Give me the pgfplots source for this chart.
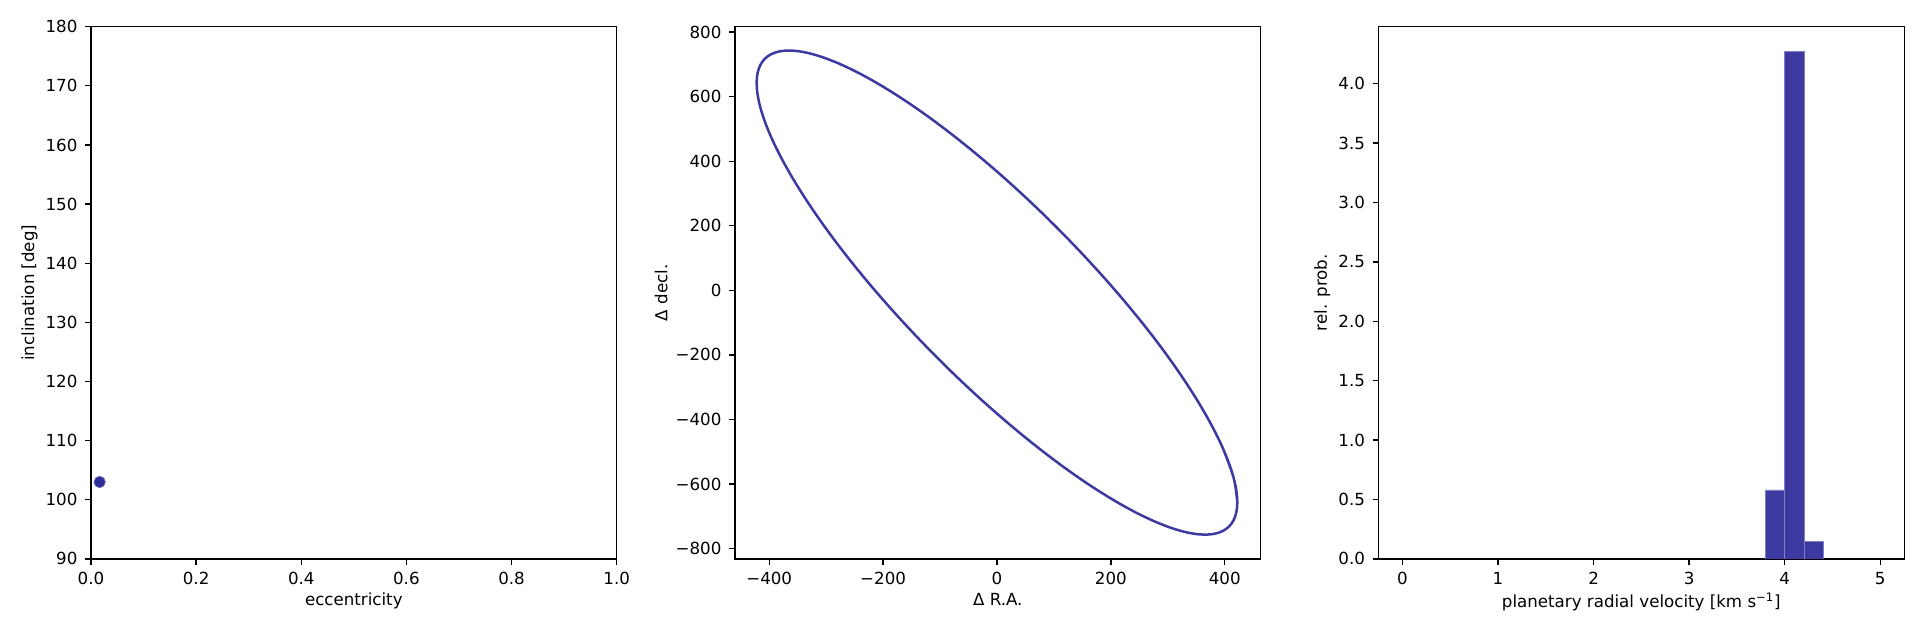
\documentclass[border=0pt]{standalone}
\usepackage{fontspec}
\setmainfont{DejaVu Sans}
\usepackage{pgfplots}
\pgfplotsset{compat=1.18}

\definecolor{orbit}{RGB}{62,57,160}
\definecolor{dotc}{RGB}{48,46,160}

\pgfplotsset{
  panel/.style={
    scale only axis,
    width=315.4pt, height=319.3pt,
    anchor=south west,
    font=\fontsize{10}{12}\selectfont,
    /pgf/number format/assume math mode=true,
    axis line style={black, line width=0.8pt},
    tick style={black, line width=0.8pt},
    major tick length=3.6pt,
    tick align=outside,
    xtick pos=bottom, ytick pos=left,
    xticklabel style={yshift=-1pt},
    yticklabel style={xshift=-1pt},
    xlabel style={yshift=2pt},
    ylabel style={yshift=-2pt},
  },
}

\begin{document}
\begin{tikzpicture}
\path (0,0) rectangle (1152pt,384pt);

% eccentricity vs inclination
\begin{axis}[panel, at={(54.6pt,48.7pt)},
  xmin=0, xmax=1, ymin=90, ymax=180,
  xtick={0,0.2,0.4,0.6,0.8,1.0},
  ytick={90,100,...,180},
  xticklabel style={/pgf/number format/.cd, fixed, fixed zerofill, precision=1},
  xlabel={eccentricity}, ylabel={inclination [deg]}]
\addplot[only marks, mark=*, mark size=3.4pt, color=dotc,
  mark options={fill=dotc!95!black, draw=dotc!75!white, line width=0.5pt}]
  coordinates {(0.0164,103.0)};
\end{axis}

% projected orbit
\begin{axis}[panel, at={(441pt,48.7pt)},
  xmin=-460, xmax=463, ymin=-832, ymax=817,
  xtick={-400,-200,0,200,400},
  xticklabels={−400,−200,0,200,400},
  ytick={-800,-600,...,800},
  yticklabels={−800,−600,−400,−200,0,200,400,600,800},
  xlabel={Δ R.A.}, ylabel={Δ decl.}]
\addplot[color=orbit, line width=1.5pt, smooth, tension=0.6] coordinates {
(422,-656.5) (415.6,-581.5) (396.6,-489.1) (365.5,-382) (323.3,-263.5)
(271.3,-137.2) (211,-7) (144.3,123.2) (73.3,249.5) (0,368)
(-73.3,475.1) (-144.3,567.5) (-211,642.5) (-271.3,697.8) (-323.3,731.6)
(-365.5,743) (-396.6,731.6) (-415.6,697.8) (-422,642.5) (-415.6,567.5)
(-396.6,475.1) (-365.5,368) (-323.3,249.5) (-271.3,123.2) (-211,-7)
(-144.3,-137.2) (-73.3,-263.5) (0,-382) (73.3,-489.1) (144.3,-581.5)
(211,-656.5) (271.3,-711.8) (323.3,-745.6) (365.5,-757) (396.6,-745.6)
(415.6,-711.8) (422,-656.5) (415.6,-581.5) (396.6,-489.1)
};
\end{axis}

% radial velocity histogram
\begin{axis}[panel, at={(827.1pt,48.7pt)},
  xmin=-0.25, xmax=5.25, ymin=0, ymax=4.48,
  xtick={0,1,2,3,4,5},
  ytick={0,0.5,...,4.0},
  yticklabel style={/pgf/number format/.cd, fixed, fixed zerofill, precision=1},
  xlabel={planetary radial velocity [km s\textsuperscript{−1}]},
  ylabel={rel. prob.}]
\addplot[ybar interval=1, fill=orbit, draw=orbit!65!white, line width=0.25pt]
  coordinates {(3.8,0.58) (4.0,4.27) (4.2,0.15) (4.4,0.15)};
\end{axis}
\end{tikzpicture}
\end{document}
